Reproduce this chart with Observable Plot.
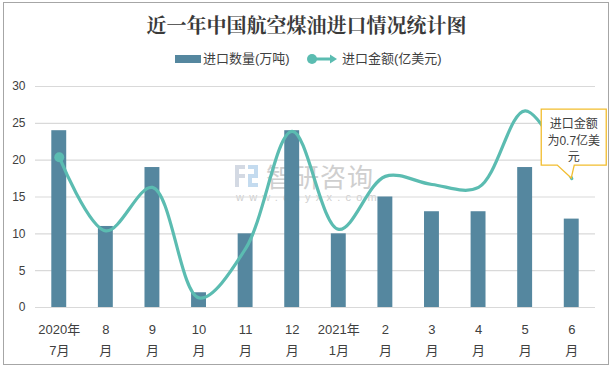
<!DOCTYPE html>
<html><head><meta charset="utf-8">
<script src="https://cdn.jsdelivr.net/npm/d3@7"></script>
<script src="https://cdn.jsdelivr.net/npm/@observablehq/plot@0.6"></script>
<style>
body{margin:0;background:#fff;}
#wrap{position:relative;width:613px;height:369px;overflow:hidden;background:#fff;font-family:"Liberation Sans","Noto Sans CJK SC",sans-serif;color:#404040;}
#frame{position:absolute;left:3px;top:2px;width:606px;height:363px;box-sizing:border-box;border:1.5px solid #a6a6a6;}
#title{position:absolute;left:0;top:11px;width:613px;text-align:center;font-size:20px;font-weight:bold;line-height:28px;font-family:"Noto Serif CJK SC","Noto Sans CJK SC",serif;color:#3a3a3a;}
.lg{position:absolute;top:50px;font-size:13px;line-height:18px;font-family:"Liberation Sans","Noto Sans CJK SC",sans-serif;color:#404040;white-space:nowrap;}
#sw{position:absolute;left:175px;top:55px;width:26px;height:8px;background:#55879f;}
#lsw{position:absolute;left:304px;top:52px;}
#wm{position:absolute;left:0;top:0;}
.wmt{position:absolute;color:#cfcfcf;white-space:nowrap;font-family:"Noto Sans CJK SC",sans-serif;}
#chart{position:absolute;left:0;top:70px;}
</style>
</head><body>
<div id="wrap">
  <div id="wm">
    <svg style="position:absolute;left:235px;top:165px" width="24" height="23">
      <rect x="0" y="0" width="10" height="4" fill="#d3d9e3"/>
      <rect x="0" y="0" width="4" height="22" fill="#d3d9e3"/>
      <rect x="0" y="9" width="10" height="4" fill="#d3d9e3"/>
      <rect x="13" y="0" width="10" height="4" fill="#c4dbef"/>
      <rect x="19" y="0" width="4" height="13" fill="#c4dbef"/>
      <rect x="13" y="9" width="10" height="4" fill="#c4dbef"/>
      <rect x="13" y="9" width="4" height="13" fill="#c4dbef"/>
      <rect x="13" y="18" width="10" height="4" fill="#c4dbef"/>
    </svg>
    <div class="wmt" style="left:266px;top:163px;font-size:26px;line-height:26px;letter-spacing:1px;">智研咨询</div>
    <div class="wmt" style="left:236px;top:192px;font-size:11px;line-height:11px;letter-spacing:5.2px;font-family:'Liberation Sans',sans-serif;">www.chyxx.com</div>
  </div>
  <div id="chart"></div>
  <div id="frame"></div>
  <div id="title">近一年中国航空煤油进口情况统计图</div>
  <div id="sw"></div>
  <div class="lg" style="left:203px">进口数量(万吨)</div>
  <svg id="lsw" width="36" height="14">
    <line x1="8" y1="7" x2="28" y2="7" stroke="#5bbcb1" stroke-width="3"/>
    <circle cx="8" cy="7" r="5" fill="#5bbcb1"/>
    <polygon points="26,2.5 33,7 26,11.5" fill="#5bbcb1"/>
  </svg>
  <div class="lg" style="left:342px">进口金额(亿美元)</div>
</div>
<script>
const months = ["2020-07","2020-08","2020-09","2020-10","2020-11","2020-12","2021-01","2021-02","2021-03","2021-04","2021-05","2021-06"];
const tickLabels = ["2020年\n7月","8\n月","9\n月","10\n月","11\n月","12\n月","2021年\n1月","2\n月","3\n月","4\n月","5\n月","6\n月"];
const volume = [24, 11, 19, 2, 10, 24, 10, 15, 13, 13, 19, 12];
const amount = [20.4, 10.4, 16.3, 1.3, 8, 23.9, 10.6, 17.8, 16.7, 16.3, 26.7, 17.5];
const yTicks = [0, 5, 10, 15, 20, 25, 30];
const calloutText = ["进口金额", "为0.7亿美", "元"];
const calloutIndex = 11;

const barColor = "#55879f";
const lineColor = "#5bbcb1";
const rows = months.map((m, i) => ({m, vol: volume[i], amt: amount[i]}));
const labelOf = new Map(months.map((m, i) => [m, tickLabels[i]]));

const calloutMark = Plot.dot([rows[calloutIndex]], {
  x: "m", y: "amt",
  render: (index, scales) => {
    const px = scales.x(rows[calloutIndex].m) + scales.x.bandwidth() / 2;
    const py = scales.y(rows[calloutIndex].amt);
    const g = d3.create("svg:g");
    const L = px - 30, R = px + 35, T = py - 69, B = py - 13;
    g.append("path")
      .attr("d", `M${L},${T}H${R}V${B}H${px + 3}L${px},${py}L${px - 14},${B}H${L}Z`)
      .attr("fill", "#fff").attr("stroke", "#f2bd2e").attr("stroke-width", 1.3);
    calloutText.forEach((t, i) => {
      g.append("text").attr("x", px + 2.5).attr("y", py - 54 + i * 16.5)
        .attr("text-anchor", "middle").attr("dy", "0.35em")
        .attr("font-size", 12).attr("fill", "#404040").text(t);
    });
    return g.node();
  }
});

const chart = Plot.plot({
  width: 613,
  height: 299,
  marginTop: 16,
  marginBottom: 62,
  marginLeft: 35,
  marginRight: 18,
  style: {fontFamily: '"Liberation Sans","Noto Sans CJK SC",sans-serif', color: "#404040", background: "transparent", overflow: "visible"},
  x: {domain: months, paddingInner: 0.68, paddingOuter: 0.35, round: false},
  y: {domain: [0, 30]},
  marks: [
    Plot.gridY(yTicks, {stroke: "#d9d9d9", strokeOpacity: 1, strokeWidth: 1.2}),
    Plot.axisY({ticks: yTicks, tickSize: 0, tickPadding: 10, fontSize: 12, label: null}),
    Plot.axisX({tickSize: 0, tickPadding: 12, fontSize: 13, lineHeight: 1.6, label: null, tickFormat: d => labelOf.get(d)}),
    Plot.barY(rows, {x: "m", y: "vol", fill: barColor}),
    Plot.line(rows, {x: "m", y: "amt", stroke: lineColor, strokeWidth: 3.2, curve: "catmull-rom"}),
    Plot.dot([rows[0]], {x: "m", y: "amt", r: 5, fill: lineColor}),
    calloutMark
  ]
});
document.getElementById("chart").appendChild(chart);
</script>
</body></html>
